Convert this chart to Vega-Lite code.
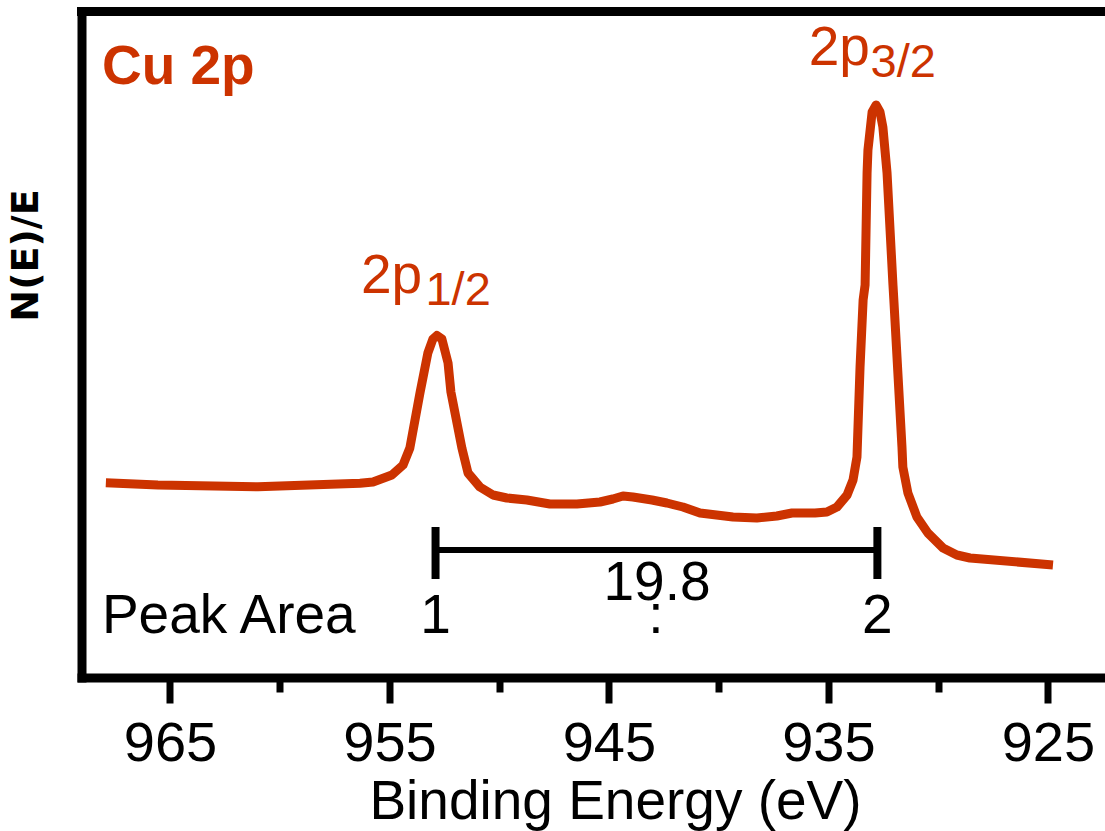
{
  "$schema": "https://vega.github.io/schema/vega-lite/v6.json",
  "width": 1023.5,
  "height": 666,
  "autosize": {"type": "none"},
  "padding": {"left": 81.5, "top": 11.5, "right": 0, "bottom": 153.5},
  "background": "white",
  "config": {"view": {"stroke": null}, "font": "Liberation Sans"},
  "datasets": {
    "spectrum": [
      {"be": 967.92, "intensity": 194.8},
      {"be": 965.55, "intensity": 192.5},
      {"be": 960.99, "intensity": 190.8},
      {"be": 956.34, "intensity": 194.2},
      {"be": 955.75, "intensity": 195.5},
      {"be": 954.89, "intensity": 202.5},
      {"be": 954.38, "intensity": 212.5},
      {"be": 954.07, "intensity": 229.5},
      {"be": 953.61, "intensity": 284.5},
      {"be": 953.25, "intensity": 324.5},
      {"be": 953.02, "intensity": 338.5},
      {"be": 952.84, "intensity": 342.0},
      {"be": 952.61, "intensity": 338.5},
      {"be": 952.33, "intensity": 314.5},
      {"be": 952.2, "intensity": 285.5},
      {"be": 951.7, "intensity": 229.5},
      {"be": 951.42, "intensity": 204.5},
      {"be": 950.88, "intensity": 190.5},
      {"be": 950.28, "intensity": 182.5},
      {"be": 949.65, "intensity": 179.5},
      {"be": 948.74, "intensity": 177.5},
      {"be": 947.69, "intensity": 173.5},
      {"be": 946.46, "intensity": 173.5},
      {"be": 945.41, "intensity": 175.5},
      {"be": 944.82, "intensity": 178.5},
      {"be": 944.36, "intensity": 181.5},
      {"be": 943.91, "intensity": 180.5},
      {"be": 943.04, "intensity": 177.5},
      {"be": 942.36, "intensity": 174.5},
      {"be": 941.63, "intensity": 170.5},
      {"be": 940.85, "intensity": 164.5},
      {"be": 939.35, "intensity": 160.5},
      {"be": 938.26, "intensity": 159.5},
      {"be": 937.35, "intensity": 161.5},
      {"be": 936.66, "intensity": 164.5},
      {"be": 935.61, "intensity": 164.5},
      {"be": 935.07, "intensity": 165.5},
      {"be": 934.61, "intensity": 170.5},
      {"be": 934.15, "intensity": 182.5},
      {"be": 933.88, "intensity": 197.5},
      {"be": 933.7, "intensity": 220.5},
      {"be": 933.56, "intensity": 310.5},
      {"be": 933.42, "intensity": 377.5},
      {"be": 933.33, "intensity": 392.5},
      {"be": 933.24, "intensity": 504.5},
      {"be": 933.2, "intensity": 527.5},
      {"be": 933.01, "intensity": 565.5},
      {"be": 932.83, "intensity": 572.5},
      {"be": 932.65, "intensity": 565.5},
      {"be": 932.52, "intensity": 550.5},
      {"be": 932.33, "intensity": 504.5},
      {"be": 932.06, "intensity": 392.5},
      {"be": 932.02, "intensity": 377.5},
      {"be": 931.65, "intensity": 230.5},
      {"be": 931.61, "intensity": 210.5},
      {"be": 931.38, "intensity": 184.5},
      {"be": 930.97, "intensity": 160.5},
      {"be": 930.47, "intensity": 144.5},
      {"be": 929.78, "intensity": 129.5},
      {"be": 929.15, "intensity": 122.5},
      {"be": 928.55, "intensity": 119.5},
      {"be": 924.77, "intensity": 112.5}
    ]
  },
  "layer": [
    {
      "data": {"name": "spectrum"},
      "mark": {"type": "line", "color": "#CC3300", "strokeWidth": 9, "strokeJoin": "round"},
      "encoding": {
        "x": {
          "field": "be", "type": "quantitative",
          "scale": {"domain": [922.4, 969.03], "reverse": true, "nice": false, "zero": false},
          "axis": {
            "values": [925, 930, 935, 940, 945, 950, 955, 960, 965],
            "labelExpr": "datum.value % 10 == 5 ? datum.label : ''",
            "grid": false,
            "domain": true, "domainColor": "black", "domainWidth": 9, "domainCap": "square",
            "ticks": true, "tickColor": "black", "tickWidth": 7,
            "tickSize": {"condition": {"test": "datum.value % 10 == 5", "value": 25.5}, "value": 14.5},
            "labelFontSize": 56, "labelColor": "black", "labelFont": "Liberation Sans",
            "labelBaseline": "alphabetic", "labelPadding": 57.7, "labelFlush": false, "labelOverlap": false,
            "title": "Binding Energy (eV)", "titleFontSize": 55, "titleFontWeight": "normal",
            "titleColor": "black", "titleFont": "Liberation Sans",
            "titleX": 533.5, "titleY": 140.5, "titleAlign": "center", "titleBaseline": "alphabetic"
          }
        },
        "y": {
          "field": "intensity", "type": "quantitative",
          "scale": {"domain": [0, 666], "nice": false, "zero": false},
          "axis": {
            "grid": false, "ticks": false, "labels": false,
            "domain": true, "domainColor": "black", "domainWidth": 9, "domainCap": "square",
            "title": "N(E)/E", "titleFont": "DejaVu Sans", "titleFontSize": 38, "titleFontWeight": "bold",
            "titleColor": "black", "titleAngle": 270,
            "titleX": -44.5, "titleY": 243.5, "titleAlign": "center", "titleBaseline": "alphabetic"
          }
        }
      }
    },
    {
      "data": {"values": [{"intensity": 666}]},
      "mark": {"type": "rule", "color": "black", "strokeWidth": 9, "strokeCap": "square"},
      "encoding": {"y": {"field": "intensity", "type": "quantitative"}}
    },
    {
      "data": {"values": [{"be": 952.9, "be2": 932.77, "intensity": 127.5}]},
      "mark": {"type": "rule", "color": "black", "strokeWidth": 6},
      "encoding": {
        "x": {"field": "be", "type": "quantitative"},
        "x2": {"field": "be2"},
        "y": {"field": "intensity", "type": "quantitative"}
      }
    },
    {
      "data": {"values": [
        {"be": 952.9, "intensity": 98.5, "intensity2": 150.5},
        {"be": 932.77, "intensity": 98.5, "intensity2": 150.5}
      ]},
      "mark": {"type": "rule", "color": "black", "strokeWidth": 8},
      "encoding": {
        "x": {"field": "be", "type": "quantitative"},
        "y": {"field": "intensity", "type": "quantitative"},
        "y2": {"field": "intensity2"}
      }
    },
    {
      "data": {"values": [{"be": 968.1, "intensity": 44.5, "label": "Peak Area"}]},
      "mark": {"type": "text", "color": "black", "fontSize": 55, "font": "Liberation Sans", "align": "left", "baseline": "alphabetic"},
      "encoding": {
        "x": {"field": "be", "type": "quantitative"},
        "y": {"field": "intensity", "type": "quantitative"},
        "text": {"field": "label"}
      }
    },
    {
      "data": {"values": [
        {"be": 952.9, "intensity": 44.5, "label": "1"},
        {"be": 942.86, "intensity": 44.5, "label": ":"},
        {"be": 932.77, "intensity": 44.5, "label": "2"},
        {"be": 942.81, "intensity": 77.5, "label": "19.8"}
      ]},
      "mark": {"type": "text", "color": "black", "fontSize": 55, "font": "Liberation Sans", "align": "center", "baseline": "alphabetic"},
      "encoding": {
        "x": {"field": "be", "type": "quantitative"},
        "y": {"field": "intensity", "type": "quantitative"},
        "text": {"field": "label"}
      }
    },
    {
      "data": {"values": [{"be": 968.1, "intensity": 593.5, "label": "Cu 2p"}]},
      "mark": {"type": "text", "color": "#CC3300", "fontSize": 55, "font": "Liberation Sans", "fontWeight": "bold", "align": "left", "baseline": "alphabetic"},
      "encoding": {
        "x": {"field": "be", "type": "quantitative"},
        "y": {"field": "intensity", "type": "quantitative"},
        "text": {"field": "label"}
      }
    },
    {
      "data": {"values": [
        {"be": 935.9, "intensity": 612.5, "label": "2p"},
        {"be": 956.3, "intensity": 384.5, "label": "2p"}
      ]},
      "mark": {"type": "text", "color": "#CC3300", "fontSize": 55, "font": "Liberation Sans", "align": "left", "baseline": "alphabetic"},
      "encoding": {
        "x": {"field": "be", "type": "quantitative"},
        "y": {"field": "intensity", "type": "quantitative"},
        "text": {"field": "label"}
      }
    },
    {
      "data": {"values": [
        {"be": 933.08, "intensity": 600.5, "label": "3/2"},
        {"be": 953.36, "intensity": 372.5, "label": "1/2"}
      ]},
      "mark": {"type": "text", "color": "#CC3300", "fontSize": 47, "font": "Liberation Sans", "align": "left", "baseline": "alphabetic"},
      "encoding": {
        "x": {"field": "be", "type": "quantitative"},
        "y": {"field": "intensity", "type": "quantitative"},
        "text": {"field": "label"}
      }
    }
  ]
}
